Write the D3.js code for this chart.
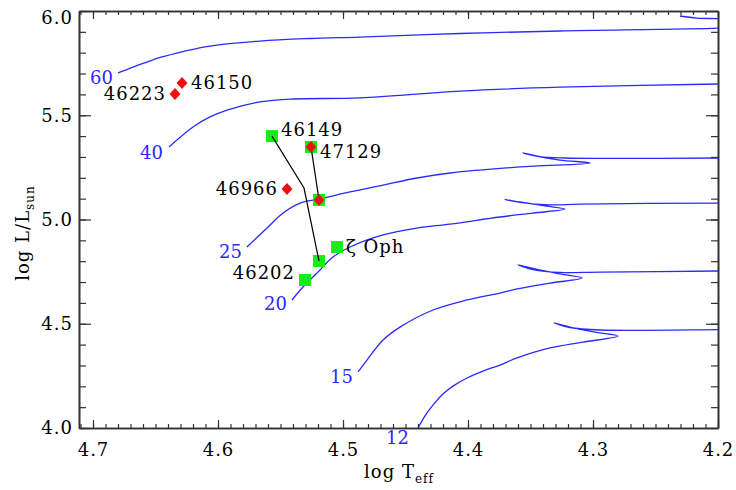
<!DOCTYPE html>
<html>
<head>
<meta charset="utf-8">
<script src="https://cdn.jsdelivr.net/npm/d3@7"></script>
<style>
body { margin: 0; background: #fff; }
svg text { font-family: "DejaVu Serif", serif; }
</style>
</head>
<body>
<svg id="chart" width="736" height="490"></svg>
<script>
// evolutionary tracks, [log Teff, log L]
var trackMasses = [60, 40, 25, 20, 15, 12];
var track60 = [[4.6800,5.703],[4.6680,5.731],[4.6568,5.755],[4.6464,5.777],[4.6264,5.808],[4.6064,5.832],
  [4.5664,5.856],[4.5264,5.868],[4.4864,5.875],[4.4064,5.892],[4.3264,5.904],[4.2,5.918],
  [4.1838,5.925],[4.1808,5.945],[4.1890,5.958],[4.2,5.963],[4.2168,5.966],[4.2304,5.976]];
var track40 = [[4.6392,5.348],[4.6200,5.444],[4.6064,5.492],[4.5928,5.525],[4.5664,5.564],[4.5400,5.578],
  [4.4864,5.583],[4.4064,5.616],[4.3264,5.635],[4.2,5.650],[4.1787,5.655]];
var track25 = [[4.5769,4.868],[4.5608,4.959],[4.5480,5.031],[4.5344,5.079],[4.5192,5.098],[4.4944,5.132],
  [4.4680,5.165],[4.4408,5.199],[4.4144,5.223],[4.3584,5.252],[4.3024,5.271],
  [4.3264,5.285],[4.3465,5.305],[4.3560,5.319],
  [4.3424,5.302],[4.3224,5.295],[4.2944,5.293],[4.2,5.295],[4.1787,5.296]];
var track20 = [[4.5408,4.614],[4.5320,4.676],[4.5208,4.743],[4.5080,4.820],[4.4944,4.868],[4.4680,4.926],
  [4.4408,4.959],[4.4144,4.978],[4.3744,5.012],[4.3480,5.031],[4.3224,5.050],
  [4.3384,5.065],[4.3584,5.084],[4.3704,5.096],
  [4.3584,5.082],[4.3344,5.070],[4.3104,5.074],[4.2,5.079],[4.1787,5.080]];
var track15 = [[4.4880,4.269],[4.4808,4.326],[4.4680,4.422],[4.4544,4.484],[4.4280,4.566],[4.4008,4.614],
  [4.3744,4.647],[4.3608,4.667],[4.3344,4.695],[4.3088,4.719],
  [4.3264,4.739],[4.3465,4.763],[4.3600,4.782],
  [4.3480,4.760],[4.3264,4.746],[4.2944,4.748],[4.2,4.753],[4.1787,4.754]];
var track12 = [[4.4416,3.981],[4.4400,4.0],[4.4328,4.072],[4.4280,4.110],[4.4200,4.163],[4.4120,4.201],
  [4.4008,4.240],[4.3880,4.273],[4.3744,4.302],[4.3608,4.336],[4.3344,4.384],[4.3080,4.412],[4.2800,4.441],
  [4.2984,4.460],[4.3184,4.484],[4.3312,4.504],
  [4.3184,4.482],[4.2944,4.470],[4.2,4.472],[4.1787,4.473]];
var tracks = [track60, track40, track25, track20, track15, track12];

// observed stars
var diamondNames = ["46150", "46223", "46966", "47129", "47129"];
var diamondPts = [[4.6288,5.655],[4.6344,5.602],[4.5448,5.146],[4.5256,5.348],[4.5192,5.094]];
var squareNames = ["46149", "47129", "47129", "46149", "ζ Oph", "46202"];
var squarePts = [[4.5568,5.400],[4.5256,5.348],[4.5192,5.094],[4.5192,4.801],[4.5048,4.868],[4.5304,4.710]];
var path46149 = [[4.5568,5.400],[4.5312,5.151],[4.5192,4.801]];
var path47129 = [[4.5256,5.348],[4.5192,5.094]];

var xTicks = [4.7, 4.6, 4.5, 4.4, 4.3, 4.2];
var yTicks = [4.0, 4.5, 5.0, 5.5, 6.0];

// label layout: [text, anchor, dx, dy, point]
var starLabels = [
  ["46150", "start", 9, 6, diamondPts[0]],
  ["46223", "end", -9, 6, diamondPts[1]],
  ["46966", "end", -9, 6, diamondPts[2]],
  ["46149", "start", 9, 0, squarePts[0]],
  ["47129", "start", 9, 11, squarePts[1]],
  ["ζ Oph", "start", 9, 6, squarePts[4]],
  ["46202", "end", -10, -1, squarePts[5]]
];
var massLabelOffsets = [[-5, 11], [-6, 12], [-5, 11], [-5, 10], [-5, 11], [-9, 16]];

var blue = "#2a2aff", red = "#f01010", green = "#14ee14";
var mLeft = 79, mRight = 718, mTop = 11, mBottom = 428;

var svg = d3.select("#chart");
// left edge of the frame sits a little beyond 4.7
var x = d3.scaleLinear().domain([4.7112, 4.2]).range([mLeft, mRight]);
var y = d3.scaleLinear().domain([4.0, 6.0]).range([mBottom, mTop]);

svg.append("defs").append("clipPath").attr("id", "plotclip")
  .append("rect").attr("x", mLeft).attr("y", mTop)
  .attr("width", mRight - mLeft).attr("height", mBottom - mTop);

var plot = svg.append("g").attr("clip-path", "url(#plotclip)");

var line = d3.line()
  .x(function (d) { return x(d[0]); })
  .y(function (d) { return y(d[1]); })
  .curve(d3.curveCatmullRom.alpha(0.5));

plot.selectAll("path.track").data(tracks).enter().append("path")
  .attr("class", "track")
  .attr("d", line)
  .attr("fill", "none")
  .attr("stroke", blue)
  .attr("stroke-width", 1.3);

// mass labels
function firstIn(t) { return t[0][1] < 4.0 ? t[1] : t[0]; }
svg.selectAll("text.mass").data(trackMasses).enter().append("text")
  .attr("class", "mass")
  .attr("x", function (d, i) { return x(firstIn(tracks[i])[0]) + massLabelOffsets[i][0]; })
  .attr("y", function (d, i) { return y(firstIn(tracks[i])[1]) + massLabelOffsets[i][1]; })
  .attr("text-anchor", "end")
  .attr("fill", blue)
  .attr("font-size", 18)
  .text(function (d) { return d; });

var straight = d3.line()
  .x(function (d) { return x(d[0]); })
  .y(function (d) { return y(d[1]); });

// squares
svg.selectAll("rect.sq").data(squarePts).enter().append("rect")
  .attr("class", "sq")
  .attr("x", function (d) { return x(d[0]) - 6; })
  .attr("y", function (d) { return y(d[1]) - 6; })
  .attr("width", 12).attr("height", 12)
  .attr("fill", green);

[path46149, path47129].forEach(function (p) {
  svg.append("path").attr("d", straight(p))
    .attr("fill", "none").attr("stroke", "#000").attr("stroke-width", 1.2);
});

// diamonds
svg.selectAll("path.dm").data(diamondPts).enter().append("path")
  .attr("class", "dm")
  .attr("d", function (d) {
    var cx = x(d[0]), cy = y(d[1]);
    return "M" + cx + "," + (cy - 6) + "L" + (cx + 5.5) + "," + cy +
      "L" + cx + "," + (cy + 6) + "L" + (cx - 5.5) + "," + cy + "Z";
  })
  .attr("fill", red);

svg.selectAll("text.star").data(starLabels).enter().append("text")
  .attr("class", "star")
  .attr("x", function (d) { return x(d[4][0]) + d[2]; })
  .attr("y", function (d) { return y(d[4][1]) + d[3]; })
  .attr("text-anchor", function (d) { return d[1]; })
  .attr("font-size", 18)
  .attr("letter-spacing", 1)
  .attr("fill", "#000")
  .text(function (d) { return d[0]; });

// axes: major + minor ticks on all four sides
var xMinor = d3.range(420, 472).map(function (v) { return v / 100; });
var yMinor = d3.range(40, 61).map(function (v) { return v / 10; });
var axisColor = "#333";

function addAxis(gen, scale, tr, vals, size, fmt) {
  var g = svg.append("g").attr("transform", tr)
    .call(gen(scale).tickValues(vals).tickSizeInner(size).tickSizeOuter(0)
      .tickPadding(8).tickFormat(fmt));
  g.select(".domain").attr("stroke", axisColor).attr("stroke-width", 1.6);
  g.selectAll(".tick line").attr("stroke", axisColor).attr("stroke-width", 1.2);
  g.selectAll("text").attr("font-family", "DejaVu Serif")
    .attr("font-size", 18).attr("letter-spacing", 1).attr("fill", "#000");
  return g;
}
var none = function () { return ""; };
var f1 = d3.format(".1f");

addAxis(d3.axisBottom, x, "translate(0," + mBottom + ")", xMinor, -4, none);
var xb = addAxis(d3.axisBottom, x, "translate(0," + mBottom + ")", xTicks, -8, f1);
xb.selectAll("text").attr("dy", "1.1em");
addAxis(d3.axisTop, x, "translate(0," + mTop + ")", xMinor, -4, none);
addAxis(d3.axisTop, x, "translate(0," + mTop + ")", xTicks, -8, none);
addAxis(d3.axisLeft, y, "translate(" + mLeft + ",0)", yMinor, -7, none);
var yl = addAxis(d3.axisLeft, y, "translate(" + mLeft + ",0)", yTicks, -12, f1);
yl.selectAll("text").attr("x", -6);
yl.selectAll(".tick").filter(function (d) { return d === 6.0; })
  .select("text").attr("dy", "0.7em");
addAxis(d3.axisRight, y, "translate(" + mRight + ",0)", yMinor, -7, none);
addAxis(d3.axisRight, y, "translate(" + mRight + ",0)", yTicks, -12, none);

// axis titles
var xt = svg.append("text").attr("x", 399).attr("y", 478)
  .attr("text-anchor", "middle").attr("font-size", 18).attr("letter-spacing", 1);
xt.append("tspan").text("log T");
xt.append("tspan").attr("font-size", 12).attr("dy", 5).text("eff");

var yt = svg.append("text")
  .attr("transform", "translate(29,233) rotate(-90)")
  .attr("text-anchor", "middle").attr("font-size", 18).attr("letter-spacing", 1);
yt.append("tspan").text("log L/L");
yt.append("tspan").attr("font-size", 12).attr("dy", 5).text("sun");
</script>
</body>
</html>
